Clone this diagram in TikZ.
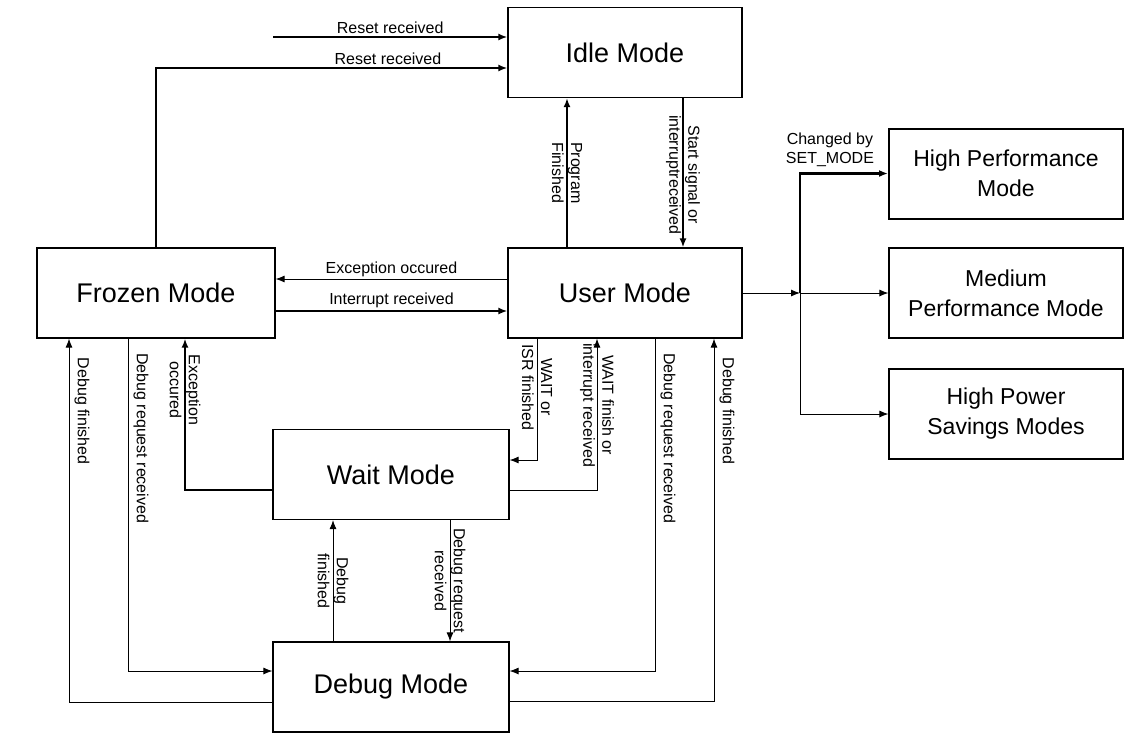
\documentclass[tikz,border=0pt]{standalone}
\usepackage{fontspec}
\setmainfont{Liberation Sans}
\usetikzlibrary{arrows.meta}
\begin{document}
\begin{tikzpicture}[x=1pt, y=-1pt,
  >={Latex[length=9pt,width=7pt]},
  mode/.style={draw, line width=1.2pt, minimum width=234pt, minimum height=90pt, align=center, font=\fontsize{27}{30}\selectfont},
  level/.style={draw, line width=1.2pt, minimum width=234pt, minimum height=90pt, align=center, font=\fontsize{23}{30}\selectfont},
  flow/.style={->, line width=0.9pt},
  boldflow/.style={->, line width=2.2pt},
  lbl/.style={font=\fontsize{16}{19}\selectfont, inner sep=2pt, align=center},
  vlbl/.style={lbl, rotate=-90},
  sidelbl/.style={vlbl, anchor=south, inner sep=5pt}]
\useasboundingbox (0,0) rectangle (1131,745);
% modes
\node[mode] (idle) at (625,52.5) {Idle Mode};
\node[mode] (user) at (625,293) {User Mode};
\node[mode, minimum width=238pt] (frozen) at (156,293) {Frozen Mode};
\node[mode, minimum width=236pt] (wait) at (391,474.5) {Wait Mode};
\node[mode, minimum width=236pt] (debug) at (391,687) {Debug Mode};
\node[level, line width=2pt] (high) at (1006,173.5) {High Performance\\Mode};
\node[level] (medium) at (1006,293) {Medium\\Performance Mode};
\node[level] (savings) at (1006,414) {High Power\\Savings Modes};
\coordinate (reset) at (273,37);
\coordinate (split) at (800,293);
% reset
\draw[boldflow] (reset) -- (reset -| idle.west) node[lbl, midway, above] (rst1) {Reset received};
\draw[boldflow] (frozen.north) |- ([yshift=-15.5pt]idle.west) node[lbl, pos=0.83, above] (rst2) {Reset received};
% idle and user
\draw[boldflow] ([xshift=-58pt]user.north) -- ([xshift=-58pt]idle.south) node[vlbl, midway] (prog) {Program\\Finished};
\draw[boldflow] ([xshift=58pt]idle.south) -- ([xshift=58pt]user.north) node[vlbl, midway, xshift=2pt] (start) {Start signal or\\interruptreceived};
% frozen and user
\draw[flow] ([yshift=14pt]user.west) -- ([yshift=14pt]frozen.east) node[lbl, midway, above] (exc1) {Exception occured};
\draw[boldflow] ([yshift=-18pt]frozen.east) -- ([yshift=-18pt]user.west) node[lbl, midway, above] (intr) {Interrupt received};
% performance levels
\draw[flow] (user.east) -- (split);
\draw[boldflow] (split) |- (high.west) node[lbl, pos=0.67, above=4pt] (setmode) {Changed by\\SET\_MODE};
\draw[flow] (split) -- (medium.west);
\draw[flow] (split) |- (savings.west);
% user and wait
\draw[flow] ([xshift=-88pt]user.south) |- ([yshift=14.5pt]wait.east) node[vlbl, pos=0.2] (isr) {WAIT or\\ISR finished};
\draw[flow] ([yshift=-15.5pt]wait.east) -| ([xshift=-28pt]user.south) node[vlbl, pos=0.78] (wfin) {WAIT finish or\\interrupt received};
% user and debug
\draw[flow] ([xshift=30pt]user.south) |- ([yshift=16pt]debug.east) node[sidelbl, pos=0.15] (dreq1) {Debug request received};
\draw[flow] ([yshift=-14pt]debug.east) -| ([xshift=89pt]user.south) node[sidelbl, pos=0.9] (dfin1) {Debug finished};
% frozen and debug
\draw[flow] ([xshift=-28pt]frozen.south) |- ([yshift=16pt]debug.west) node[sidelbl, pos=0.15] (dreq2) {Debug request received};
\draw[flow] ([yshift=-15pt]debug.west) -| ([xshift=-87pt]frozen.south) node[sidelbl, pos=0.9] (dfin2) {Debug finished};
% wait
\draw[boldflow] ([yshift=-15.5pt]wait.west) -| ([xshift=29pt]frozen.south) node[vlbl, pos=0.83] (exc2) {Exception\\occured};
\draw[flow] ([xshift=-58pt]debug.north) -- ([xshift=-58pt]wait.south) node[vlbl, midway] (dfin3) {Debug\\finished};
\draw[flow] ([xshift=59pt]wait.south) -- ([xshift=59pt]debug.north) node[vlbl, midway] (dreq3) {Debug request\\received};
\end{tikzpicture}
\end{document}
